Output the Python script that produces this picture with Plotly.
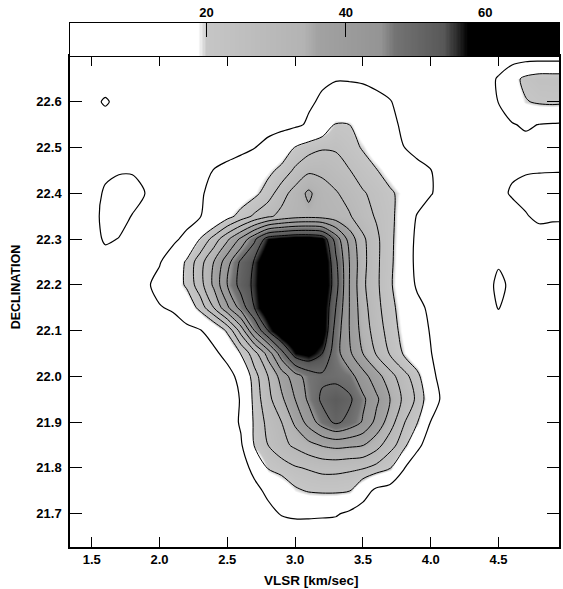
import numpy as np
import plotly.graph_objects as go

# ---- grid (velocity columns, declination rows) ----
velocity = [1.4, 1.5, 1.6, 1.7, 1.8, 1.9, 2.0, 2.1, 2.2, 2.3, 2.4, 2.5, 2.6, 2.7, 2.8, 2.9,
            3.0, 3.1, 3.2, 3.3, 3.4, 3.5, 3.6, 3.7, 3.8, 3.9, 4.0, 4.1, 4.2, 4.3, 4.4, 4.5,
            4.6, 4.7, 4.8, 4.9, 5.0]
declination = [21.65, 21.70, 21.75, 21.80, 21.85, 21.90, 21.95, 22.00, 22.05, 22.10, 22.15,
               22.20, 22.25, 22.30, 22.35, 22.40, 22.45, 22.50, 22.55, 22.60, 22.65, 22.70]

# ---- intensity, one list per declination row ----
dec_2270 = [3,3,4,3,3,3,3,3,3,3,3,3,3,3,3,4,4,5,6,6.5,6.5,6,5,4,4,3,3,3,3,4,4,4,5.5,6,6,6,6]
dec_2265 = [3,4,3,4,4,3,3,3,3,3,3,3,4,4,5,5,6,7.5,9,9.7,9.6,9.3,8.5,7.5,6,5,4,4,4,5,6,11,17,22,24,24,24]
dec_2260 = [4,6,11.7,6,4,4,3,3,3,3,4,4,5,5,6,6,7,9,11,12.5,13,12.5,11.5,10.3,8,6,5,4,4,4,5,10.2,15,19.5,21,21.5,21]
dec_2255 = [4,4,3,4,5,5,4,4,4,4,4,5,5,6,7,7.5,8.5,11,15,20.5,20,16,13.5,11.5,9,6.5,5,4,4,4,4,7.5,9.5,11,9.8,9.3,9]
dec_2250 = [4,5,5,6,6,6,5,5,5,5,6,7,8,9.8,12.5,16,20.3,23,24.5,24.5,22,19.5,16,13,10.1,8,6,5,4,4,4,5,6,7.5,6,5.5,5]
dec_2245 = [4,6,8.5,9.3,9.4,9.2,7,6.5,7,8,10.2,12,14,16,18.5,21.5,26,29,29,27,25.2,22.5,20.3,17,14,12,10.2,7,5,4,5,6,9,9.5,9.6,9.7,9.7]
dec_2240 = [4,7,11,13,12.5,9.8,7,6.5,7.5,9.2,12,14,16,18.5,22.5,28,32,36,32,30.5,28,25.5,23.5,21,18,14,10.5,7,5,4,5,8,10.8,12,13,13,13]
dec_2235 = [4,7.5,12,12.5,9.7,7,6,6,7,9.7,13,18,22,26,29,31.5,33,33.5,33,32,30.5,27,24.5,22,16,9.5,6,5,4,4,4,5,7,9.5,11.5,11,11]
dec_2230 = [4,7,11,9.8,7,6,7,8.5,12,20.3,27,34,41,49,57.5,59,60,60,58.5,48,38,31,26,21.5,16,8,5,4,4,4,4,5,5,6,7,7,7]
dec_2225 = [4,5,7,6,5.5,6,9.5,14,21,28,35,43,51,55.5,63,68,70,68,62,51,40,31.5,26,21.5,15,8,5,4,4,4,5,9.2,6,4,4,4,4]
dec_2220 = [4,4,4,4,5,9,12,16,21,28,36,45,52,56,64,70,72,70,62,52,40,31,26,21,15,9,6,5,4,4,7,11.7,8.5,5,4,4,4]
dec_2215 = [4,4,4,4,5,7.5,9.6,10.8,15,22,30,39,47,55,62,68,71,69,60,50,40,32,26.5,22,17,12,8.5,5,4,4,6,10.4,6,4,4,4,4]
dec_2210 = [4,4,4,4,4,5,6,7,8,9.5,14,21,32,45,55,62,66,65,60,48,40,33,27.5,23,18,13.5,9.5,6,4,4,4,5,4,4,4,4,4]
dec_2205 = [4,4,4,4,4,4,4,5,5,5.5,8,13,20.3,28,37,48,57.5,59,55,47,41,35,29.5,24.5,19.5,14,10.3,6,4,4,4,4,4,4,4,4,4]
dec_2200 = [4,4,4,4,4,4,4,4,4,4,5,6.5,13,23,30,37,43,47,49,48.5,47,42,37,32,27,22,12.5,6,4,4,4,4,4,4,4,4,4]
dec_2195 = [4,4,4,4,4,4,4,4,4,4,4,6,10.5,22,28.5,34,40,46,51,53,51,46,41,35,29,24,16,7,4,4,4,4,4,4,4,4,4]
dec_2190 = [4,4,4,4,4,4,4,4,4,4,4,5.5,11,21,26.5,30,36,42,47.5,51,48.5,44.5,38.5,32.5,25.5,20.5,9.7,5,4,4,4,4,4,4,4,4,4]
dec_2185 = [4,4,4,4,4,4,4,4,4,4,4,5,9,20.5,25,28.5,31,33.5,35.5,36.5,36,35.3,32,27,22.5,12,6,4,4,4,4,4,4,4,4,4,4]
dec_2180 = [4,4,4,4,4,4,4,4,4,4,4,4,7,12,20.5,22.5,24.5,25.5,26.5,26.5,26,25.5,23.5,20.5,10.5,5,4,4,4,4,4,4,4,4,4,4,4]
dec_2175 = [4,4,4,4,4,4,4,4,4,4,4,4,5,8,11.5,15,19,20.5,21,21,20.3,14,8,6,5,4,4,4,4,4,4,4,4,4,4,4,4]
dec_2170 = [4,4,4,4,4,4,4,4,4,4,4,4,4,5,8,10.5,11.5,11.5,11.2,10.8,8.5,6,5,4,4,4,4,4,4,4,4,4,4,4,4,4,4]
dec_2165 = [3,3,3,3,3,3,3,3,3,3,3,3,3,4,4,5,5,5,5,5,5,4,4,3,3,3,3,3,3,3,3,3,3,3,3,3,3]

intensity = [dec_2165, dec_2170, dec_2175, dec_2180, dec_2185, dec_2190, dec_2195, dec_2200,
             dec_2205, dec_2210, dec_2215, dec_2220, dec_2225, dec_2230, dec_2235, dec_2240,
             dec_2245, dec_2250, dec_2255, dec_2260, dec_2265, dec_2270]

# ---- ticks ----
vel_ticks = [1.5, 2.0, 2.5, 3.0, 3.5, 4.0, 4.5]
dec_ticks = [21.7, 21.8, 21.9, 22.0, 22.1, 22.2, 22.3, 22.4, 22.5, 22.6]
cbar_ticks = [20, 40, 60]

ZMIN, ZMAX = 0.43, 70.57
cbar_values = np.arange(ZMIN, ZMAX + 0.2, 0.2)

# grey ramp
stops = [ZMIN, 18.8, 20, 34, 36, 45, 47, 54, 56, 57.5, ZMAX]
greys = ['#ffffff', '#ffffff', '#c6c6c6', '#b3b3b3', '#a2a2a2', '#949494',
         '#747474', '#585858', '#2a2a2a', '#000000', '#000000']
colorscale = [[(s - ZMIN) / (ZMAX - ZMIN), c] for s, c in zip(stops, greys)]

FONT = "Liberation Sans, Arial, Helvetica, sans-serif"
tickfont = dict(family=FONT, size=13, color='black', weight='bold')

fig = go.Figure()
fig.add_trace(go.Heatmap(x=velocity, y=declination, z=intensity, colorscale=colorscale,
                         zmin=ZMIN, zmax=ZMAX, zsmooth='best', showscale=False,
                         hoverinfo='skip', xaxis='x', yaxis='y'))
fig.add_trace(go.Contour(x=velocity, y=declination, z=intensity, showscale=False,
                         contours=dict(start=10, end=10, size=1, coloring='none'),
                         line=dict(color='black', width=1.2, smoothing=0.8),
                         hoverinfo='skip', xaxis='x', yaxis='y'))
fig.add_trace(go.Contour(x=velocity, y=declination, z=intensity, showscale=False,
                         contours=dict(start=20, end=60, size=5, coloring='none'),
                         line=dict(color='black', width=1.0, smoothing=0.8),
                         hoverinfo='skip', xaxis='x', yaxis='y'))
# colour wedge on top
fig.add_trace(go.Heatmap(x=cbar_values, y=[0.5], z=[cbar_values], colorscale=colorscale,
                         zmin=ZMIN, zmax=ZMAX, showscale=False, hoverinfo='skip',
                         xaxis='x2', yaxis='y2'))

split = 491 / 524
fig.update_layout(
    width=563, height=589,
    margin=dict(l=70, r=2, t=23, b=42),
    paper_bgcolor='white', plot_bgcolor='white',
    showlegend=False,
    xaxis=dict(domain=[0, 1], anchor='y', range=[1.34, 4.946], tickvals=vel_ticks,
               tickformat='.1f', ticks='inside', ticklen=10, tickwidth=1.2, tickcolor='black',
               showline=True, linewidth=1.5, linecolor='black', mirror='ticks',
               showgrid=False, zeroline=False, tickfont=tickfont),
    yaxis=dict(domain=[0, split], anchor='x', range=[21.627, 22.70], tickvals=dec_ticks,
               tickformat='.1f', ticks='inside', ticklen=12, tickwidth=1.2, tickcolor='black',
               showline=True, linewidth=1.5, linecolor='black', mirror='ticks',
               showgrid=False, zeroline=False, tickfont=tickfont, ticklabelstandoff=4),
    xaxis2=dict(domain=[0, 1], anchor='y2', range=[ZMIN, ZMAX], side='top',
                tickvals=cbar_ticks, ticks='inside', ticklen=14, tickwidth=1.2,
                tickcolor='black', showline=True, linewidth=1.2, linecolor='black',
                mirror=True, showgrid=False, zeroline=False, tickfont=tickfont),
    yaxis2=dict(domain=[split, 1], anchor='x2', range=[0, 1], showticklabels=False,
                ticks='', showline=True, linewidth=1.2, linecolor='black', mirror=True,
                showgrid=False, zeroline=False),
    annotations=[
        dict(text='VLSR [km/sec]', xref='paper', yref='paper', x=0.493, y=-0.063,
             xanchor='center', yanchor='middle', showarrow=False,
             font=dict(family=FONT, size=13.5, color='black', weight='bold')),
        dict(text='DECLINATION', xref='paper', yref='paper', x=-0.11, y=0.496,
             xanchor='center', yanchor='middle', textangle=-90, showarrow=False,
             font=dict(family=FONT, size=12.5, color='black', weight='bold')),
    ],
)

fig.write_html("out.html", config={'displayModeBar': False},
               post_script="document.body.style.margin='0px';document.body.style.overflow='hidden';")
